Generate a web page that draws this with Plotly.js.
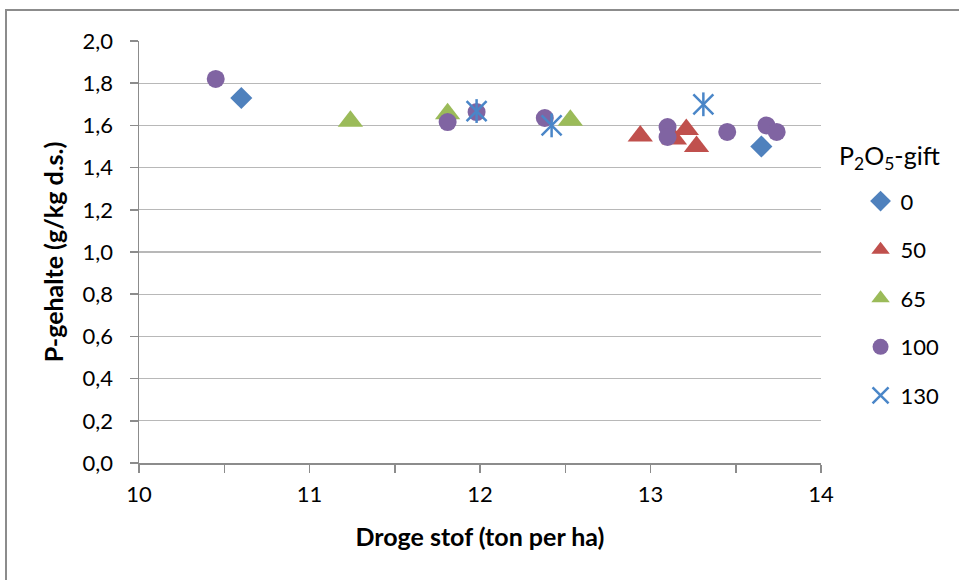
<!DOCTYPE html>
<html>
<head>
<meta charset="utf-8">
<script src="https://cdn.plot.ly/plotly-3.0.1.min.js"></script>
<style>
  html, body { margin: 0; padding: 0; background: #ffffff; }
  #wrap { position: relative; width: 959px; height: 580px; overflow: hidden; }
  #chart { position: absolute; left: 0; top: 0; width: 959px; height: 580px; }
  #frame {
    position: absolute; left: 5px; top: 9px; width: 1000px; height: 700px;
    border-left: 2px solid #8c8c8c; border-top: 2px solid #8c8c8c;
    pointer-events: none;
  }
</style>
</head>
<body>
<div id="wrap">
  <div id="chart"></div>
  <div id="frame"></div>
</div>
<script>
// Dry matter yield (ton/ha) vs. P content (g/kg d.s.) per P2O5 dose
const doseLabels = ['0', '50', '65', '100', '130'];
const legendTitle = 'P<sub>2</sub>O<sub>5</sub>-gift';

const dose0_x = [10.60, 13.65];
const dose0_y = [1.73, 1.50];

const dose50_x = [12.94, 13.14, 13.21, 13.27];
const dose50_y = [1.55, 1.535, 1.58, 1.50];

const dose65_x = [11.24, 11.81, 12.53];
const dose65_y = [1.62, 1.655, 1.625];

const dose100_x = [10.45, 11.81, 11.98, 12.38, 13.10, 13.10, 13.45, 13.68, 13.74];
const dose100_y = [1.82, 1.616, 1.663, 1.635, 1.592, 1.545, 1.569, 1.60, 1.569];

const dose130_x = [11.98, 12.42, 13.31];
const dose130_y = [1.668, 1.60, 1.70];

const FONT = 'Lato, "Open Sans", sans-serif';

function pts(name, x, y, marker, group, showlegend) {
  return {
    type: 'scatter', mode: 'markers', name: name, x: x, y: y,
    marker: marker, legendgroup: group,
    showlegend: showlegend !== false, hoverinfo: 'x+y'
  };
}

const traces = [
  pts(doseLabels[0], dose0_x, dose0_y,
      {symbol: 'diamond', size: 17, color: '#4F81BD'}, 'g0'),
  pts(doseLabels[1], dose50_x, dose50_y,
      {symbol: 'triangle-up', size: 22, color: '#C0504D'}, 'g1'),
  pts(doseLabels[2], dose65_x, dose65_y,
      {symbol: 'triangle-up', size: 22, color: '#9BBB59'}, 'g2'),
  pts(doseLabels[3], dose100_x, dose100_y,
      {symbol: 'circle', size: 18, color: '#8064A2'}, 'g3'),
  // six-armed star: an x plus a vertical stroke
  pts(doseLabels[4], dose130_x, dose130_y,
      {symbol: 'x-thin-open', size: 20, color: '#4A86C8',
       line: {width: 2.5, color: '#4A86C8'}}, 'g4'),
  pts(doseLabels[4], dose130_x, dose130_y,
      {symbol: 'line-ns-open', size: 17, color: '#4A86C8',
       line: {width: 2.5, color: '#4A86C8'}}, 'g4', false)
];

const layout = {
  width: 959, height: 580,
  margin: {l: 139, r: 138, t: 41, b: 117},
  paper_bgcolor: 'rgba(0,0,0,0)',
  plot_bgcolor: '#ffffff',
  separators: ',.',
  font: {family: FONT, size: 22, color: '#000000'},
  xaxis: {
    range: [10, 14], dtick: 1, tick0: 10,
    showgrid: false, zeroline: false,
    showline: true, linecolor: '#8c8c8c', linewidth: 1.5,
    ticks: 'outside', ticklen: 8, tickwidth: 1.5, tickcolor: '#8c8c8c',
    minor: {dtick: 0.5, ticks: 'outside', ticklen: 8, tickwidth: 1.5, tickcolor: '#8c8c8c'},
    ticklabelstandoff: 3,
    tickfont: {family: FONT, size: 22, color: '#000000'},
    title: {text: 'Droge stof (ton per ha)', standoff: 22,
            font: {family: FONT, size: 25, color: '#000000', weight: 'bold'}}
  },
  yaxis: {
    range: [0, 2], dtick: 0.2, tick0: 0, tickformat: '.1f',
    showgrid: true, gridcolor: '#b8b8b8', gridwidth: 1.2,
    zeroline: false,
    showline: true, linecolor: '#8c8c8c', linewidth: 1.5,
    ticks: 'outside', ticklen: 8, tickwidth: 1.5, tickcolor: '#8c8c8c',
    ticklabelstandoff: 12,
    tickfont: {family: FONT, size: 22, color: '#000000'},
    title: {text: 'P-gehalte (g/kg d.s.)', standoff: 12,
            font: {family: FONT, size: 25, color: '#000000', weight: 'bold'}}
  },
  legend: {
    x: 1.058, xanchor: 'left', y: 0.67, yanchor: 'top',
    traceorder: 'grouped', tracegroupgap: 17,
    font: {family: FONT, size: 22, color: '#000000'},
    bgcolor: 'rgba(0,0,0,0)'
  },
  annotations: [{
    text: legendTitle, xref: 'paper', yref: 'paper',
    x: 1.023, y: 0.724, xanchor: 'left', yanchor: 'middle',
    showarrow: false,
    font: {family: FONT, size: 25, color: '#000000'}
  }],
  showlegend: true
};

Plotly.newPlot('chart', traces, layout, {displayModeBar: false, staticPlot: true});
</script>
</body>
</html>
